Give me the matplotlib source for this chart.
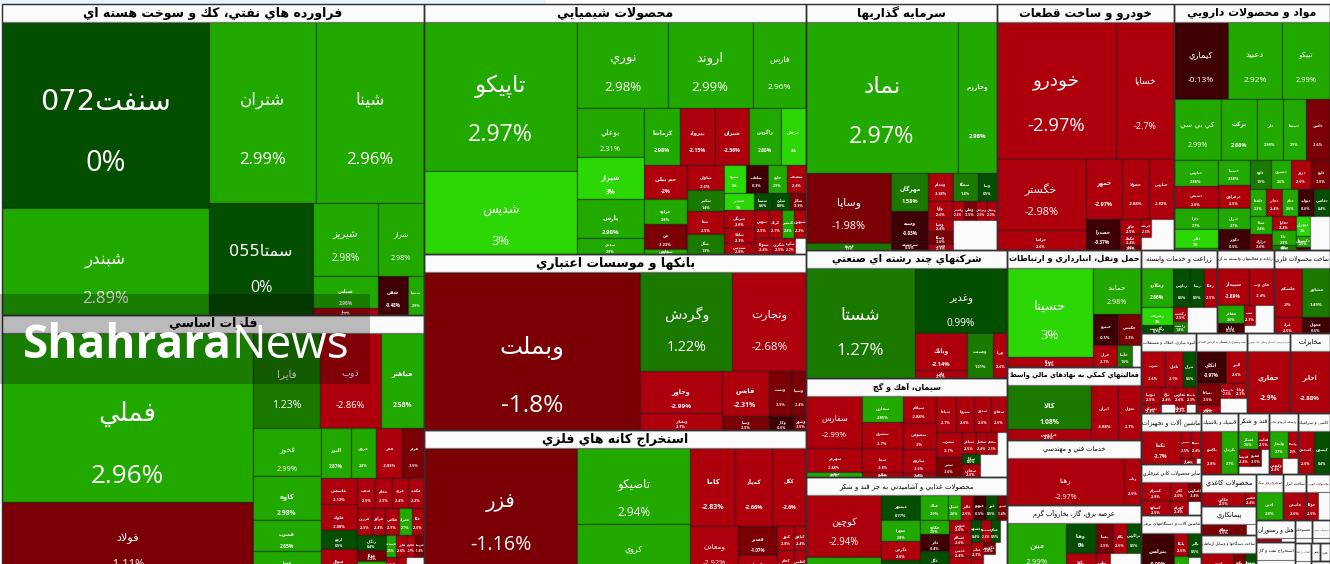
import re
import matplotlib
matplotlib.use("Agg")
import matplotlib.pyplot as plt
from matplotlib.patches import Rectangle

# every inner list is one strip; (name, size, change %). A leading "row"/"col" names the strip's direction
PETRO = [[("سنفت072", 38500, 0), ("شبندر", 22150, 2.89)],
         [("شتران", 19370, 2.99), ("شينا", 19550, 2.96)],
         [("سمتا055", 11650, 0)],
         [("شيريز", 4745, 2.98), ("شراز", 3360, 2.98)],
         [("شپاس", 2080, 2.96), ("شپنا", 455, -2.5)],
         ["row", ("شفن", 1170, -0.48), ("شسپا", 624, 2.9)]]
METAL = [[("فملي", 42080, 2.96), ("فولاد", 18180, -1.11)],
         [("فايرا", 6324, 1.23), ("ذوب", 5673, -2.86), ("فباهنر", 4092, 2.58)],
         [("فخوز", 3234, 2.99), ("كاوه", 2904, 2.98), ("فسرب", 2112, 2.85), ("فسپا", 1584, 2.9)],
         [("البرز", 1519, 2.87), ("فروي", 1225, 2.8), ("فجر", 1323, -2.03), ("هرمز", 1078, -1.5)],
         [("فاسمين", 945, -2.12), ("فلوله", 945, -2.08), ("ارفع", 665, 0.5), ("فنوال", 945, -2.6)],
         ["row", ("فنفت", 532, -2.5), ("فجام", 476, -2.9), ("فرود", 476, -2.4), ("فكمند", 476, -2.2)],
         ["row", ("فزرين", 390, -2.5), ("فرآور", 364, -2.4), ("فلامي", 364, -2.9), ("فمراد", 338, 2.7), ("فكا", 338, -2.6)],
         ["col", ("زنگان", 425, 0.4), ("فوكا", 325, -1.2), ("فپنتا", 400, 2.4)],
         ["row", ("فسديد", 228, 2.5), ("فاذر", 228, -2.6), ("فالوم", 190, -2.7), ("فتوسا", 190, -1.4)],
         ["row", ("فنورد", 200, -2.3), ("فاراك", 170, -2.6), ("", 330, None)]]
CHEM = [[("تاپيكو", 22650, 2.97), ("شديس", 12620, 3)],
        [("نوري", 7735, 2.98), ("اروند", 7225, 2.99), ("فارس", 4590, 2.96)],
        [("بوعلي", 3234, 2.31), ("شيراز", 2838, 3), ("پارس", 2574, 2.98), ("سعدي", 1056, 2.9)],
        ["row", ("كرماشا", 2072, 2.98), ("بيرواد", 1960, -2.15), ("شيران", 1904, -2.56), ("زاگرس", 1792, 2.88), ("مرجان", 1456, 3)],
        [("حم بيلن", 1505, -2), ("خراوه", 1075, 2.8), ("فن", 1075, -1.23), ("شفارس", 215, 2.5)],
        [("شاوان", 936, -2.6), ("شكبير", 756, 1.4), ("شفا", 828, -2.5), ("شگل", 720, 1.3)],
        ["row", ("سبزه", 638, 3), ("شلعاب", 609, -0.3), ("خليج", 551, 2.9), ("شصدف", 551, -2.4)],
        ["row", ("شغدير", 510, 3), ("شستا", 306, 0.6), ("شلرد", 306, 0.8), ("شكلر", 272, -1.3)],
        ["col", ("شرنگي", 540, -2.6), ("شاملا", 480, -2.3), ("شپديس", 330, -2.8)],
        ["row", ("شوش", 392, -2.5), ("كرتك", 336, -2.7), ("كپشير", 336, 2.4), ("شبهرن", 336, -2.2)],
        ["row", ("شتوكا", 300, -2.4), ("شكربن", 200, -2.5), ("شگويا", 160, -2.2), ("", 180, None)]]
BANK = [[("وبملت", 34130, -1.8)],
        ["row", ("وگردش", 9108, 1.22), ("وتجارت", 7326, -2.68)],
        [("وخاور", 3402, -2.99), ("وبصادر", 1377, -2.7)],
        ["row", ("فايس", 2115, -2.31), ("وپست", 1035, -1.9), ("وسينا", 630, -1.4)],
        ["row", ("وپسا", 672, -1.5), ("وكار", 350, -0.6), ("وشهر", 170, -1.5)]]
MINE = [[("فزر", 19431, -1.16)],
        [("تاصيكو", 8588, 2.94), ("كروي", 5763, 2.96)],
        ["row", ("كاما", 3510, -2.83), ("كمياد", 2886, -2.66), ("كگل", 2652, -2.6)],
        ["col", ("ومعادن", 2352, -2.92)],
        ["col", ("فغدير", 1131, -1.07), ("كهمدا", 780, -2.5)],
        ["row", ("كنور", 408, -2.8), ("كبافق", 288, -2.4)],
        ["row", ("كجام", 425, -2.6), ("كطبس", 300, -2.3)]]
INVEST = [[("نماد", 22801, 2.97), ("وخارزم", 5889, 2.98)],
          [("وساپا", 5950, -1.98), ("وپترو", 595, 1.3)],
          [("مهرگان", 1406, 1.58), ("وسپه", 1110, -0.83), ("سرچشمه", 333, -0.5)],
          ["row", ("ومعلم", 672, -2.88), ("سمگا", 700, 1.4), ("وسا", 532, 0.5)],
          ["col", ("وآوا", 408, -2.6), ("وصنا", 312, -2.4), ("وسكا", 312, -1.6), ("ومدير", 144, -2.3)],
          ["row", ("وكغدير", 209, -2.4), ("وملي", 228, -1.5), ("وبوعلي", 209, -2.6), ("ونيكي", 190, -2.2)],
          [("", 1320, None)]]
AUTO = [[("خودرو", 16303, -2.97), ("خساپا", 7946, -2.7)],
        [("خگستر", 6319, -2.98), ("خزاميا", 1780, -2.6)],
        ["row", ("خمهر", 2160, -2.97), ("خفولا", 1620, -2.88), ("خپارس", 1500, -2.82)],
        ["col", ("خصدرا", 1054, -0.37)],
        ["col", ("خاور", 315, -2.5), ("خكمك", 231, -2.4), ("خكار", 105, -1.5)],
        ["col", ("خريخت", 180, -2.3), ("", 130, None)],
        [("", 710, None)]]
PHARMA = [[("كيماري", 4158, -0.13), ("دعبيد", 4158, 2.92), ("تيپكو", 3696, 2.99)],
          ["row", ("كي بي سي", 2867, 2.99), ("بركت", 2196, 2.88), ("دلر", 1586, 2.98), ("دسبحا", 1403, 2.9), ("دامين", 1464, -1.6)],
          [("دپارس", 1144, 2.88), ("دشيمي", 968, -2.6), ("دفرا", 924, 2.7), ("دالبر", 836, 3), ("دتماد", 88, 2.5)],
          [("دسينا", 800, 2.88), ("دزهراوي", 736, -2.5), ("ديران", 672, 2.7), ("دكوثر", 672, -0.5)],
          ["row", ("داوه", 609, 1.5), ("دشيري", 580, 2.6), ("دروز", 580, -2.5), ("دارو", 551, -1.5)],
          ["row", ("دلقما", 432, 2.3), ("دجابر", 432, -2.4), ("ددام", 405, 2.6), ("دتوليد", 432, -0.6), ("دقاضي", 432, 0.4)],
          ["col", ("شفا", 396, 2.4), ("درازك", 352, -1.6)],
          ["col", ("دفارا", 336, -2.4), ("دانا", 360, 2.3), ("دبالك", 120, 1.4)],
          ["col", ("دتهران", 280, 3), ("دكپسول", 154, 2.5), ("دعلوي", 42, -0.5)],
          [("", 680, None)]]
MULTI = [[("شستا", 11880, 1.27)],
         [("وغدير", 5980, 0.99)],
         [("وبانك", 1924, -2.14), ("واتي", 416, -2.5)],
         ["row", ("وصنعت", 1170, 1.21), ("ورنا", 630, -2.6)]]
TRANS = [[("حسينا", 7565, 3), ("حتوكا", 850, -2.4)],
         [("حمابند", 2205, 2.98)],
         ["row", ("حپترو", 775, -0.5), ("حكشتي", 744, -1.3)],
         ["row", ("حريل", 525, -2.7), ("حآسا", 315, 1.6), ("", 200, None)]]
FINANCE = [[("كالا", 3735, 1.08), ("فرابورس", 913, -2.6)],
           ["row", ("ايران", 1512, -2.88), ("تمويل", 1288, -2.7)]]
TECH = [[("رهنا", 5568, -2.97)], [("رتاپ", 816, -2.5)]]
POWER = [[("مبين", 3016, 2.99)],
         [("وهنا", 900, 0), ("بگيلا", 660, -2.4)],
         ["row", ("بمپنا", 510, -1.5), ("بكام", 420, -2.5), ("بزاگرس", 420, 0.5)],
         ["row", ("بپاس", 300, -2.4), ("", 690, None)]]
CEMENT = [[("سفارس", 2856, -2.99), ("سهرمز", 1344, -2.88), ("سخزر", 280, 2.5)],
          [("سمازن", 1040, 2.85), ("سشرق", 1000, -2.7), ("سيتا", 960, -2.8), ("سكرد", 200, -2.5)],
          [("سيلام", 891, -2.88), ("سصوفي", 825, -3), ("ساروم", 792, -2.6), ("ساوه", 132, -2.4)],
          ["row", ("سپاها", 720, -2.7), ("سبزوا", 648, -2.6), ("سدور", 612, -2.8), ("سفانو", 576, -2.5)],
          ["col", ("سغرب", 624, -2.7), ("سنير", 520, -1.6)],
          ["row", ("سباقر", 315, -2.5), ("سمتاز", 231, -2.4), ("سجام", 210, -2.3), ("", 224, None)],
          ["col", ("سكار", 180, 0.5), ("سقاين", 234, -2.6)],
          [("", 620, None)]]
FOOD = [[("كوچين", 4464, -2.94), ("غدشت", 1296, 2.7)],
        [("غبشهر", 950, 0.77), ("غمهرا", 760, 2.8), ("غگرجي", 722, -2.6), ("غصينو", 570, 0.6)],
        ["row", ("غپاك", 672, 2.9), ("غشان", 312, 2.6), ("غالبر", 288, -2.5), ("غبهنو", 312, -0.5), ("غزر", 288, 0.5), ("غپينو", 240, -1.4)],
        ["col", ("خكاوه", 378, 2.5), ("غاذر", 459, -0.4), ("غگل", 648, 0.5)],
        ["col", ("غنوش", 252, -2.5), ("غسالم", 273, -2.6), ("غديس", 273, -2.4), ("غويتا", 378, -2.3)],
        ["row", ("غشهد", 216, 0.4), ("غشصفا", 198, -2.4), ("غدام", 180, 0.5), ("", 162, None)],
        ["col", ("غناب", 190, -2.3), ("غفارس", 180, -2.4)],
        ["col", ("غكورش", 130, -1.6), ("", 240, None)],
        [("", 400, None)]]
AGRI = [[("زملارد", 1248, 2.86), ("زشريف", 544, 3), ("زگلدشت", 256, 0.7)],
        ["row", ("زپارس", 663, 0.6), ("زبينا", 546, 0.5), ("زفكا", 507, -2.5)],
        ["col", ("زكشت", 195, -2.5), ("زدشت", 165, 1.4)],
        [("", 750, None)]]
COMPUTER = [["row", ("سپيدار", 1147, -2.89), ("هاي وب", 925, -2.4)],
            ["col", ("مفاخر", 459, 2.6), ("رايان", 270, -0.5)],
            ["col", ("سپ", 209, -2.3), ("", 88, None)],
            [("", 500, None)]]
METALPROD = [["col", ("فلشكم", 1323, -3.0), ("فزاد", 432, -2.5)],
             ["col", ("مشاور", 1372, 1.49), ("فجهان", 448, -0.6)]]
ESTATE = [["row", ("ثغرب", 864, -2.6), ("ثامان", 648, -2.7), ("ثتران", 468, 0.6)],
          ["row", ("ثنوسا", 323, -2.5), ("ثباغ", 221, -2.4), ("ثفارس", 204, -2.6), ("ثاصفا", 170, -2.3)],
          ["row", ("ثمسكن", 171, -2.4), ("", 126, None), ("ثشرق", 99, -2.2), ("", 90, None)]]
INSURE = [["row", ("اتكاي", 960, -0.97), ("البرز", 672, -2.6)],
          ["col", ("بساما", 528, -1.5), ("بخاور", 192, -2.4)],
          ["row", ("پارسيان", 210, -2.5), ("ودانا", 195, -2.3)],
          [("", 405, None)]]
RETAIL = [[("حفاري", 2666, -2.9)]]
TELECOM = [[("اخابر", 2480, -2.88)]]
MACHINE = [[("تكما", 1216, -2.7)],
           ["row", ("تپمپي", 260, -2.5), ("تشكا", 260, -2.4)],
           ["col", ("تيرا", 90, -2.3)],
           [("", 30, None)]]
MINERAL = [["col", ("كسرام", 476, -2.8), ("كساوه", 420, -2.5)],
           ["col", ("كاذر", 324, -2.6), ("كهرام", 252, -2.4)],
           ["col", ("كفپارس", 234, -1.4), ("", 182, None)]]
ELECTRIC = [["col", ("بترانس", 1419, -0.99)],
            ["col", ("بايكا", 336, -2.5), ("بشهاب", 266, 2.6)],
            ["col", ("بالبر", 325, 0.5), ("", 234, None)]]
RUBBER = [[("پاكشو", 840, -2.8), ("پكرمان", 714, 2.7)]]
SUGAR = [["row", ("قشكر", 342, 2.6), ("قثابت", 198, -2.5)],
         ["row", ("قنيشا", 176, -2.4), ("قمرو", 176, -1.5), ("", 128, None)],
         [("", 248, None)]]
BROKER = [["row", ("ولتجار", 494, 2.7), ("ولساپا", 260, -2.5)],
          ["row", ("ولبهمن", 192, -2.4), ("", 240, None)]]
TILE = [["row", ("كسعدي", 600, -2.6), ("كيسون", 640, 0.4)]]
PAPER = [["row", ("چكارن", 645, -2.5), ("چفيبر", 165, -2.4)]]
CONTRACT = [["row", ("ثنظام", 540, -1.5), ("", 120, None)]]
COMM = [["row", ("لوتوس", 682, -2.6), ("تكنو", 264, -1.5), ("شمواد", 242, 0.6)]]
COAL = [[("امين", 756, 2.8)]]
TOOLS = [[("فاسمن", 644, -2.6)]]
WOOD = [["row", ("چوكا", 308, -2.5), ("", 336, None)]]
HOTEL = [["row", ("گردش", 96, -2.5), ("", 56, None)]]
EMPTY = []

SECTOR_STRIPS = [
    [("فراورده هاي نفتي، كك و سوخت هسته اي", 131242, PETRO), ("فلزات اساسي", 109720, METAL)],
    [("محصولات شيميايي", 95500, CHEM), ("بانكها و موسسات اعتباري", 67232, BANK), ("استخراج كانه هاي فلزي", 55390, MINE)],
    [("سرمايه گذاريها", 46740, INVEST), ("خودرو و ساخت قطعات", 43542, AUTO), ("مواد و محصولات دارويي", 38376, PHARMA)],
    ["col", ("شركتهاي چند رشته اي صنعتي", 25728, MULTI), ("سيمان، آهك و گچ", 19899, CEMENT),
     ("محصولات غذايي و آشاميدني به جز قند و شكر", 19698, FOOD)],
    ["col", ("حمل ونقل، انبارداري و ارتباطات", 15678, TRANS), ("فعاليتهاي كمكي به نهادهاي مالي واسط", 9782, FINANCE),
     ("خدمات فني و مهندسي", 8710, TECH), ("عرضه برق، گاز، بخاروآب گرم", 9380, POWER)],
    [("زراعت و خدمات وابسته", 6308, AGRI), ("رايانه و فعاليتهاي وابسته به آن", 4731, COMPUTER), ("ساخت محصولات فلزي", 4648, METALPROD)],
    [("انبوه سازي، املاك و مستغلات", 4400, ESTATE), ("بيمه وصندوق بازنشستگي به جزتامين اجتماعي", 4080, INSURE),
     ("خرده فروشي، باستثناي وسايل نقليه موتوري", 3440, RETAIL), ("مخابرات", 3200, TELECOM)],
    [("ماشين آلات و تجهيزات", 3060, MACHINE), ("ساير محصولات كاني غيرفلزي", 3060, MINERAL), ("ماشين آلات و دستگاههاي برقي", 3600, ELECTRIC)],
    [("لاستيك و پلاستيك", 2257, RUBBER), ("قند و شكر", 1891, SUGAR), ("واسطه گريهاي مالي", 1769, BROKER), ("كاشي و سراميك", 1952, TILE)],
    [("محصولات كاغذي", 1760, PAPER), ("پيمانكاري", 1595, CONTRACT), ("ساخت دستگاهها و وسايل ارتباطي", 2200, COMM)],
    [("استخراج زغال سنگ", 1242, COAL), ("ساخت ابزار", 1058, TOOLS), ("محصولات چوبي", 1104, WOOD)],
    [("هتل و رستوران", 836, HOTEL), ("استخراج نفت و گاز", 1254, EMPTY)],
    [("منسوجات", 396, EMPTY), ("محصولات چرمي", 396, EMPTY)],
    [("اطلاعات و ارتباطات", 528, EMPTY)],
    [("نشر", 160, EMPTY), ("تجارت", 180, EMPTY)],
    [("فني", 260, EMPTY)],
]

WATERMARK_BOLD = "Shahrara"
WATERMARK_REGULAR = "News"

# ---------- Arabic shaping (matplotlib has no shaper) ----------
B = {}
def _f(ch, iso, fin=None, ini=None, med=None):
    B[ch] = (iso, fin, ini, med)
for ch, base in zip("بتثجحخسشصضطظعغفقكلمنهي",
                    [0xFE8F, 0xFE95, 0xFE99, 0xFE9D, 0xFEA1, 0xFEA5, 0xFEB1, 0xFEB5, 0xFEB9, 0xFEBD, 0xFEC1,
                     0xFEC5, 0xFEC9, 0xFECD, 0xFED1, 0xFED5, 0xFED9, 0xFEDD, 0xFEE1, 0xFEE5, 0xFEE9, 0xFEF1]):
    _f(ch, base, base + 1, base + 2, base + 3)
for ch, base in zip("ادذرزوةىآأؤإ", [0xFE8D, 0xFEA9, 0xFEAB, 0xFEAD, 0xFEAF, 0xFEED, 0xFE93, 0xFEEF, 0xFE81, 0xFE83, 0xFE85, 0xFE87]):
    _f(ch, base, base + 1)
_f("ئ", 0xFE89, 0xFE8A, 0xFE8B, 0xFE8C)
_f("پ", 0xFB56, 0xFB57, 0xFB58, 0xFB59)
_f("چ", 0xFB7A, 0xFB7B, 0xFB7C, 0xFB7D)
_f("ژ", 0xFB8A, 0xFB8B)
_f("ک", 0xFB8E, 0xFB8F, 0xFB90, 0xFB91)
_f("گ", 0xFB92, 0xFB93, 0xFB94, 0xFB95)
_f("ی", 0xFBFC, 0xFBFD, 0xFBFE, 0xFBFF)
LAM_ALEF = {"ا": (0xFEFB, 0xFEFC), "آ": (0xFEF5, 0xFEF6), "أ": (0xFEF7, 0xFEF8), "إ": (0xFEF9, 0xFEFA)}


def shape(text):
    chars = list(text)
    out, i = [], 0
    prev_joins = False
    while i < len(chars):
        c = chars[i]
        if c not in B:
            out.append(c); prev_joins = False; i += 1; continue
        if c == "ل" and i + 1 < len(chars) and chars[i + 1] in LAM_ALEF:
            out.append(chr(LAM_ALEF[chars[i + 1]][1 if prev_joins else 0]))
            prev_joins = False; i += 2; continue
        iso, fin, ini, med = B[c]
        nxt = chars[i + 1] if i + 1 < len(chars) else ""
        next_ok = ini is not None and nxt in B
        if prev_joins and next_ok:
            out.append(chr(med))
        elif prev_joins:
            out.append(chr(fin))
        elif next_ok:
            out.append(chr(ini))
        else:
            out.append(chr(iso))
        prev_joins = next_ok
        i += 1
    s = "".join(out)
    runs = re.findall(r"[0-9.]+|[^0-9.]+", s)
    return "".join(r if r[0].isdigit() else r[::-1] for r in reversed(runs))


# ---------- strips -> rectangles ----------
def split(st):
    return (st[0], st[1:]) if isinstance(st[0], str) else (None, st)


def layout(strips, x, y, w, h):
    total = sum(it[1] for st in strips for it in split(st)[1])
    for st in strips:
        force, items = split(st)
        s = sum(it[1] for it in items)
        if s <= 0 or total <= 0:
            continue
        if force == "col" or (force is None and w >= h):
            sw = w * s / total
            yy = y
            for it in items:
                ih = h * it[1] / s
                yield it, x, yy, sw, ih
                yy += ih
            x += sw; w -= sw
        else:
            sh = h * s / total
            xx = x
            for it in items:
                iw = w * it[1] / s
                yield it, xx, y, iw, sh
                xx += iw
            y += sh; h -= sh
        total -= s


def colour(p):
    for limit, c in [(3, "#2BD805"), (2, "#21A900"), (1, "#1A7A00"), (0, "#044E00"),
                     (-0.999, "#3F0004"), (-1.999, "#7A0006")]:
        if p >= limit:
            return c
    return "#AE000C"


NAME_FONT = ["DejaVu Sans"]
NUM_FONT = ["Open Sans"]
HEADER = 18
TITLE_PT = {"شركتهاي چند رشته اي صنعتي": 7.3, "حمل ونقل، انبارداري و ارتباطات": 6.6,
            "فعاليتهاي كمكي به نهادهاي مالي واسط": 6.0, "محصولات غذايي و آشاميدني به جز قند و شكر": 5.0}

fig = plt.figure(figsize=(13.3, 5.64), dpi=100, facecolor="white")
ax = fig.add_axes([0, 0, 1, 1])
ax.set_xlim(0, 1330); ax.set_ylim(564, 0); ax.axis("off")
ax.add_patch(Rectangle((0, 0), 546, 4, fc="#E6F3FA", ec="none", zorder=0))
renderer = fig.canvas.get_renderer()

for sec, sx, sy, sw, sh in layout(SECTOR_STRIPS, 2, 4, 1328, 571):
    title, _, stocks = sec
    ax.add_patch(Rectangle((sx, sy), sw, sh, fc="#FBFBFB", ec="none", zorder=1))
    for (name, _v, pct), x, y, w, h in layout(stocks, sx, sy + HEADER, sw, sh - HEADER):
        if pct is None:
            continue
        r = Rectangle((x, y), w, h, fc=colour(pct), ec=(0, 0, 0, 0.4), lw=0.9, zorder=2)
        ax.add_patch(r)
        m = min(w, h)
        if m < 4:
            continue
        label = f"{pct:g}%"
        px = max(0.155 * m, 3.6)
        px = max(2.4, min(px, 0.95 * w / (0.58 * max(len(name), len(label)))))
        fy1, fy2 = (0.48, 0.85) if w / h >= 1.3 else (0.43, 0.76)
        weight = "bold" if px < 7 else "normal"
        t1 = ax.text(x + w / 2, y + h * fy1, shape(name), color="white", fontsize=px * 0.72,
                     family=NAME_FONT, ha="center", va="center", zorder=3, weight=weight, clip_on=True)
        t2 = ax.text(x + w / 2, y + h * fy2, label, color="white", fontsize=px * 0.72,
                     family=NUM_FONT, ha="center", va="center", zorder=3, weight=weight, clip_on=True)
        t1.set_clip_path(r); t2.set_clip_path(r)
    head = Rectangle((sx, sy), sw, HEADER, fc="none", ec="#777777", lw=0.8, zorder=4)
    ax.add_patch(head)
    ax.add_patch(Rectangle((sx, sy), sw, sh, fc="none", ec="#333333", lw=1.0, zorder=5))
    fs = TITLE_PT.get(title, min(9.0, max(4.8, 0.04 * (sw * sh) ** 0.5)))
    tt = ax.text(sx + sw / 2, sy + HEADER / 2, shape(title), color="black", fontsize=fs,
                 family=NAME_FONT, ha="center", va="center", zorder=6,
                 weight="bold" if fs > 5 else "normal", clip_on=True)
    tw = tt.get_window_extent(renderer).width
    if tw > sw - 3:
        tt.set_fontsize(fs * (sw - 3) / tw)
    tt.set_clip_path(head)

# watermark band and logo
ax.add_patch(Rectangle((0, 294), 370, 90, fc="black", ec="none", alpha=0.26, zorder=8))
wm = ax.text(23, 358, WATERMARK_BOLD, color="white", fontsize=33, family=NUM_FONT, weight="bold",
             ha="left", va="baseline", zorder=9)
ax.annotate(WATERMARK_REGULAR, xy=(1, 0), xycoords=wm, xytext=(0, 0), textcoords="offset points",
            color="white", fontsize=33, family=NUM_FONT, ha="left", va="bottom", zorder=9)

fig.savefig("out.png", dpi=100, facecolor="white")
